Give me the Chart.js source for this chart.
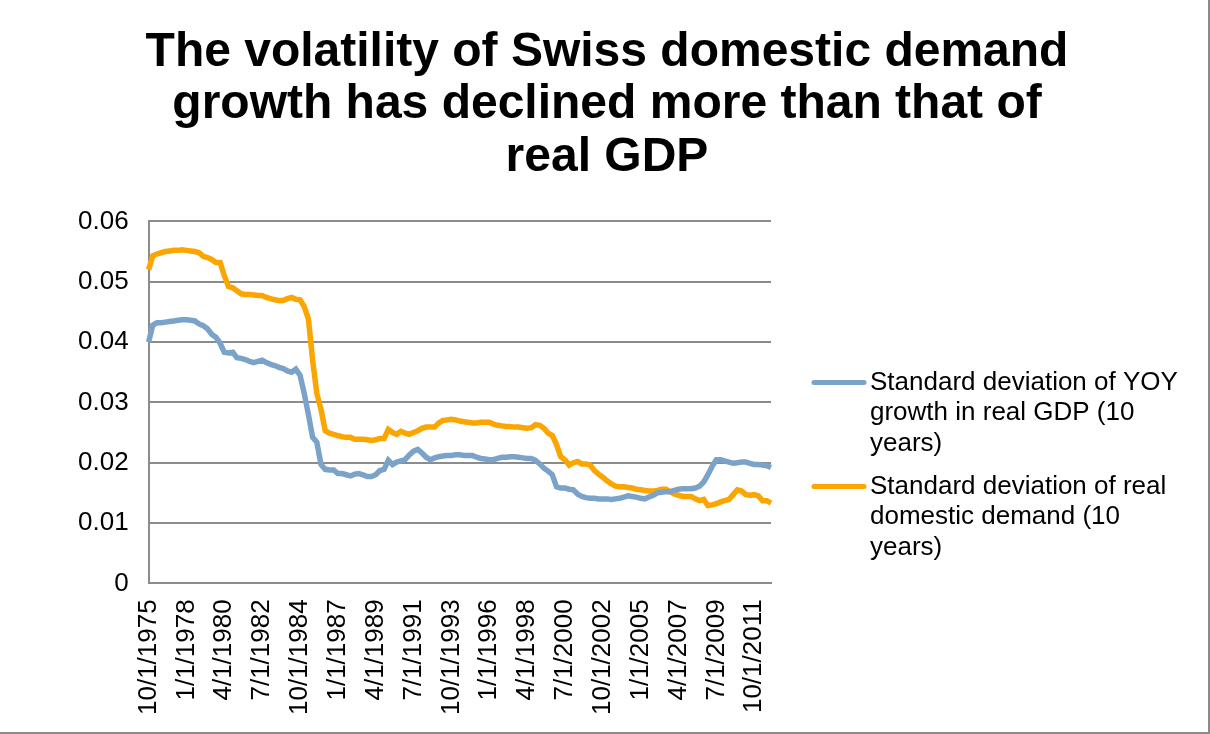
<!DOCTYPE html>
<html>
<head>
<meta charset="utf-8">
<script src="https://cdn.jsdelivr.net/npm/chart.js@4.4.1/dist/chart.umd.min.js"></script>
<style>
  html, body { margin: 0; padding: 0; background: #fff; }
  #wrap { position: absolute; left: 0; top: 0; width: 1208px; height: 732px;
          border-right: 2px solid #8a8a8a; border-bottom: 2px solid #8a8a8a; }
</style>
</head>
<body>
<div id="wrap"><canvas id="chVol"></canvas></div>
<script>
/* Swiss volatility chart */

// quarterly categories, 10/1/1975 .. 10/1/2012
var startYear = 1975, startMonth = 10, nQuarters = 149;
var quarters = [];
for (var q = 0; q < nQuarters; q++) {
    var m = startMonth + 3 * q;
    var y = startYear + Math.floor((m - 1) / 12);
    quarters.push(((m - 1) % 12 + 1) + '/1/' + y);
}
var tickEvery = 9;

var gdpStd = [
    0.0400, 0.0428, 0.0432, 0.0432, 0.0433, 0.0434, 0.0435, 0.0436, 0.0437, 0.0437,
    0.0436, 0.0435, 0.0430, 0.0427, 0.0422, 0.0413, 0.0408, 0.0398, 0.0383, 0.0382,
    0.0383, 0.0374, 0.0373, 0.0371, 0.0368, 0.0366, 0.0368, 0.0370, 0.0366, 0.0363,
    0.0361, 0.0358, 0.0356, 0.0352, 0.0350, 0.0355, 0.0345, 0.0315, 0.0280, 0.0242,
    0.0234, 0.0197, 0.0189, 0.0188, 0.0188, 0.0182, 0.0182, 0.0180, 0.0178, 0.0181,
    0.0182, 0.0180, 0.0177, 0.0177, 0.0180, 0.0187, 0.0189, 0.0204, 0.0197, 0.0201,
    0.0203, 0.0205, 0.0213, 0.0219, 0.0222, 0.0216, 0.0209, 0.0205, 0.0208, 0.0210,
    0.0211, 0.0212, 0.0212, 0.0213, 0.0213, 0.0212, 0.0212, 0.0212, 0.0209, 0.0207,
    0.0206, 0.0205, 0.0205, 0.0207, 0.0209, 0.0209, 0.0210, 0.0210, 0.0209, 0.0208,
    0.0207, 0.0207, 0.0204, 0.0198, 0.0191, 0.0186, 0.0180, 0.0160, 0.0158, 0.0158,
    0.0156, 0.0155, 0.0148, 0.0144, 0.0142, 0.0141, 0.0141, 0.0140, 0.0140, 0.0140,
    0.0139, 0.0140, 0.0141, 0.0143, 0.0145, 0.0144, 0.0143, 0.0141, 0.0140, 0.0143,
    0.0146, 0.0150, 0.0151, 0.0152, 0.0152, 0.0154, 0.0156, 0.0157, 0.0157, 0.0157,
    0.0158, 0.0161, 0.0168, 0.0180, 0.0194, 0.0205, 0.0205, 0.0203, 0.0201, 0.0199,
    0.0200, 0.0201, 0.0201, 0.0199, 0.0197, 0.0197, 0.0196, 0.0195, 0.0192
];

var demandStd = [
    0.0520, 0.0543, 0.0546, 0.0548, 0.0550, 0.0551, 0.0552, 0.0552, 0.0553, 0.0552,
    0.0551, 0.0550, 0.0548, 0.0542, 0.0540, 0.0537, 0.0532, 0.0532, 0.0510, 0.0492,
    0.0490, 0.0485, 0.0480, 0.0479, 0.0479, 0.0478, 0.0477, 0.0477, 0.0474, 0.0472,
    0.0470, 0.0469, 0.0469, 0.0472, 0.0474, 0.0471, 0.0470, 0.0459, 0.0438, 0.0370,
    0.0315, 0.0288, 0.0253, 0.0249, 0.0247, 0.0245, 0.0243, 0.0242, 0.0242, 0.0239,
    0.0239, 0.0239, 0.0238, 0.0237, 0.0238, 0.0240, 0.0240, 0.0255, 0.0250, 0.0247,
    0.0252, 0.0249, 0.0247, 0.0250, 0.0253, 0.0257, 0.0259, 0.0259, 0.0259, 0.0266,
    0.0270, 0.0271, 0.0272, 0.0271, 0.0269, 0.0268, 0.0267, 0.0266, 0.0266, 0.0267,
    0.0267, 0.0267, 0.0264, 0.0262, 0.0261, 0.0260, 0.0260, 0.0259, 0.0259, 0.0258,
    0.0257, 0.0258, 0.0263, 0.0262, 0.0257, 0.0249, 0.0245, 0.0230, 0.0210, 0.0205,
    0.0196, 0.0200, 0.0202, 0.0198, 0.0198, 0.0196, 0.0187, 0.0181, 0.0176, 0.0170,
    0.0165, 0.0161, 0.0160, 0.0160, 0.0159, 0.0158, 0.0156, 0.0155, 0.0154, 0.0153,
    0.0153, 0.0154, 0.0156, 0.0156, 0.0152, 0.0148, 0.0146, 0.0144, 0.0144, 0.0144,
    0.0140, 0.0137, 0.0139, 0.0129, 0.0130, 0.0132, 0.0135, 0.0137, 0.0139, 0.0147,
    0.0155, 0.0153, 0.0147, 0.0146, 0.0147, 0.0145, 0.0137, 0.0137, 0.0133
];

var seriesNames = [
    ['Standard deviation of YOY', 'growth in real GDP (10', 'years)'],
    ['Standard deviation of real', 'domestic demand (10', 'years)']
];
var titleLines = [
    'The volatility of Swiss domestic demand',
    'growth has declined more than that of',
    'real GDP'
];

var colors = ['#7BA3C9', '#FAA500'];
var gridColor = '#8c8c8c';
var fontFamily = '"Liberation Sans", Arial, sans-serif';

// legend drawn by hand so the labels can wrap like in Excel
var wrapLegend = {
    id: 'wrapLegend',
    afterDraw: function (chart) {
        var ctx = chart.ctx, area = chart.chartArea;
        var x0 = area.right + 41, lineH = 30.5;
        var firstY = [area.top + 161, area.top + 265];
        ctx.save();
        ctx.font = '26px ' + fontFamily;
        ctx.fillStyle = '#000';
        ctx.textBaseline = 'middle';
        chart.data.datasets.forEach(function (ds, i) {
            var y = firstY[i];
            ctx.strokeStyle = ds.borderColor;
            ctx.lineWidth = 5;
            ctx.lineCap = 'round';
            ctx.beginPath();
            ctx.moveTo(x0 + 2, y);
            ctx.lineTo(x0 + 52, y);
            ctx.stroke();
            seriesNames[i].forEach(function (t, k) {
                ctx.fillText(t, x0 + 58, y + k * lineH);
            });
        });
        ctx.restore();
    }
};

var chVol = document.getElementById('chVol');
if (chVol) {
    new Chart(chVol, {
        type: 'line',
        data: {
            labels: quarters,
            datasets: [
                {
                    label: seriesNames[0].join(' '),
                    data: gdpStd,
                    borderColor: colors[0],
                    borderWidth: 5.5,
                    pointRadius: 0,
                    tension: 0
                },
                {
                    label: seriesNames[1].join(' '),
                    data: demandStd,
                    borderColor: colors[1],
                    borderWidth: 5.5,
                    pointRadius: 0,
                    tension: 0
                }
            ]
        },
        options: {
            responsive: true,
            maintainAspectRatio: false,
            animation: false,
            layout: { padding: { left: 58, right: 52, top: 0, bottom: 1 } },
            plugins: {
                legend: { display: false },
                tooltip: { enabled: false },
                title: {
                    display: true,
                    text: titleLines,
                    color: '#000',
                    font: { family: fontFamily, size: 48, weight: 'bold', lineHeight: 1.1 },
                    padding: { top: 26, bottom: 37 }
                }
            },
            scales: {
                x: {
                    offset: false,
                    grid: { display: false, drawTicks: false },
                    border: { display: true, color: gridColor, width: 2 },
                    ticks: {
                        autoSkip: false,
                        maxRotation: 90,
                        minRotation: 90,
                        padding: 16,
                        color: '#000',
                        font: { family: fontFamily, size: 26 },
                        callback: function (val, index) {
                            return index % tickEvery === 0 ? quarters[index] : null;
                        }
                    }
                },
                y: {
                    min: 0,
                    max: 0.06,
                    grid: { color: gridColor, lineWidth: 2, drawTicks: false },
                    border: { display: true, color: gridColor, width: 2 },
                    ticks: {
                        stepSize: 0.01,
                        padding: 20,
                        color: '#000',
                        font: { family: fontFamily, size: 26 },
                        callback: function (v) { return v === 0 ? '0' : v.toFixed(2); }
                    }
                },
                // empty right-hand box that keeps room for the legend
                legendSpace: {
                    position: 'right',
                    display: true,
                    grid: { display: false, drawTicks: false },
                    border: { display: false },
                    ticks: { display: false },
                    afterFit: function (s) { s.width = 385; }
                }
            }
        },
        plugins: [wrapLegend]
    });
}
</script>
</body>
</html>
